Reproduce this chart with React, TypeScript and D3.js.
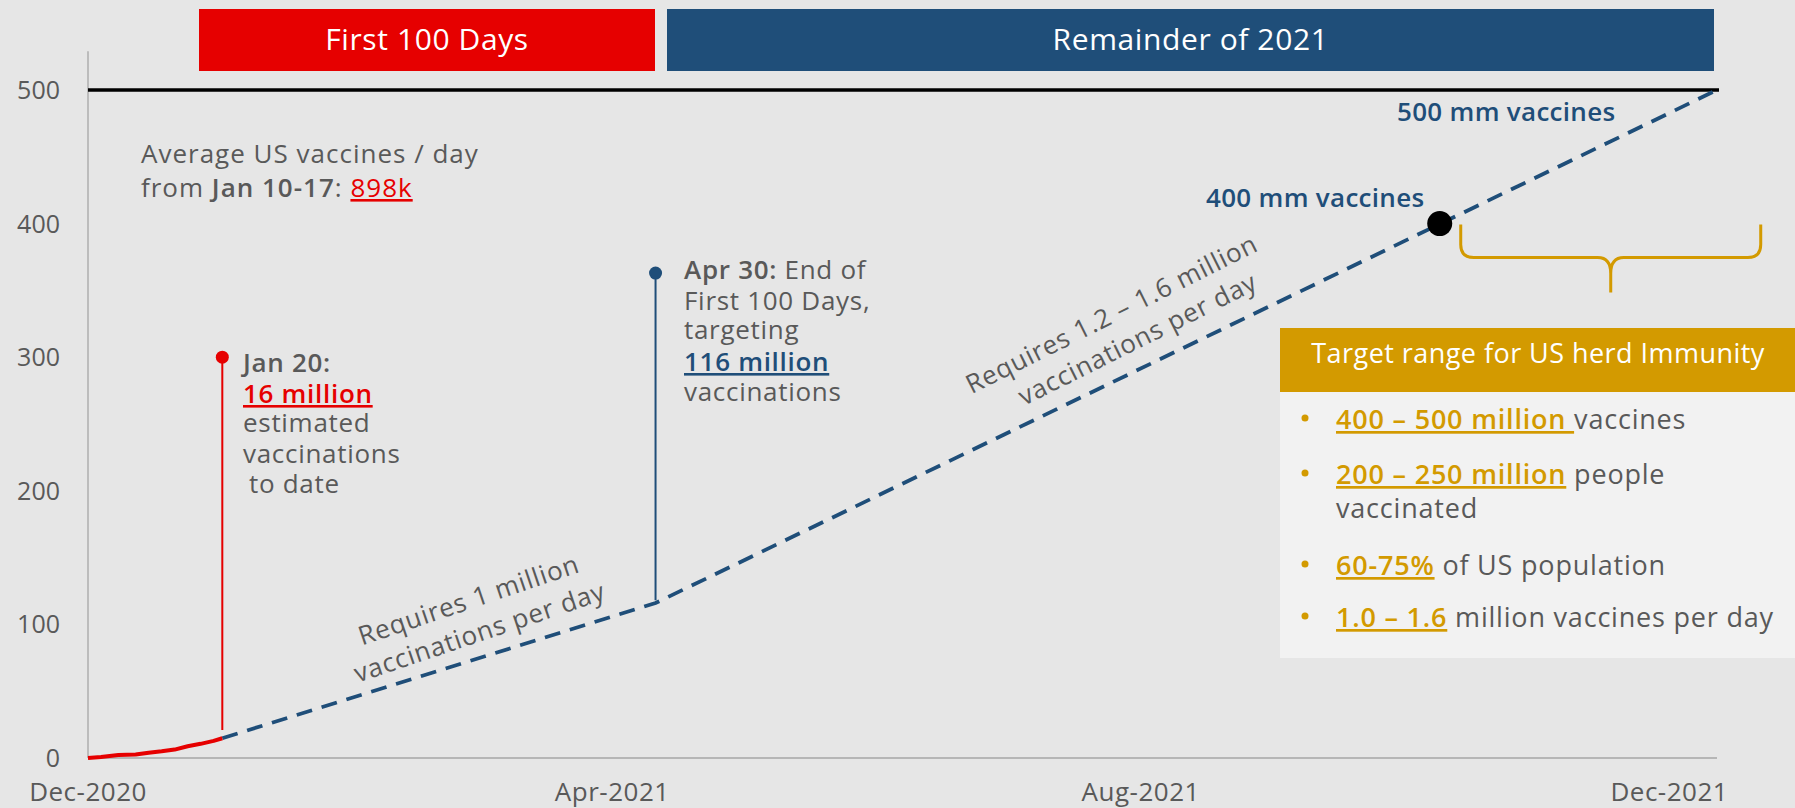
import React from "react";
import * as d3 from "d3";

// ---------- data ----------
const yTicks = [0, 100, 200, 300, 400, 500];
const xTickDates = ["2020-12-20", "2021-04-20", "2021-08-20", "2021-12-20"];
const xTickLabels = ["Dec-2020", "Apr-2021", "Aug-2021", "Dec-2021"];

const actualDates = [
  "2020-12-20", "2020-12-23", "2020-12-27", "2020-12-31", "2021-01-03",
  "2021-01-06", "2021-01-09", "2021-01-12", "2021-01-15", "2021-01-18", "2021-01-20",
];
const actualValues = [0, 0.8, 2.2, 2.6, 4.0, 5.0, 6.3, 8.8, 10.6, 12.8, 14.8];

const projectedDates = ["2021-01-20", "2021-04-30", "2021-12-31"];
const projectedValues = [14.8, 116, 500];

const milestoneDates = ["2021-01-20", "2021-04-30"];
const milestoneTops = [300, 363];
const milestoneBottoms = [21, 118];
const milestoneColors = ["#E60000", "#1F4E79"];

const targetLine = 500;
const dotDate = "2021-10-28";
const dotValue = 400;

const periodLabels = ["First 100 Days", "Remainder of 2021"];

// ---------- styles ----------
const BG = "#E6E6E6";
const GRAY = "#595959";
const RED = "#E60000";
const BLUE = "#1F4E79";
const GOLD = "#D39A00";
const FONT = "'Open Sans', Lato, sans-serif";

const W = 1795;
const H = 808;

const parse = d3.timeParse("%Y-%m-%d");

export default function App() {
  const x = d3
    .scaleTime()
    .domain([parse("2020-12-20")!, parse("2021-12-31")!])
    .range([88, 1717]);
  const y = d3.scaleLinear().domain([0, 500]).range([758, 90]);

  const actual = actualDates.map((d, i) => [parse(d)!, actualValues[i]] as [Date, number]);
  const projected = projectedDates.map((d, i) => [parse(d)!, projectedValues[i]] as [Date, number]);

  const line = d3
    .line<[Date, number]>()
    .x((d) => x(d[0]))
    .y((d) => y(d[1]));

  const p0 = projected[0], p1 = projected[1], p2 = projected[2];
  const ang1 =
    (Math.atan2(y(p1[1]) - y(p0[1]), x(p1[0]) - x(p0[0])) * 180) / Math.PI - 1.3;
  const ang2 =
    (Math.atan2(y(p2[1]) - y(p1[1]), x(p2[0]) - x(p1[0])) * 180) / Math.PI - 0.8;

  const x0 = x.range()[0];
  const x1 = x.range()[1];

  const redBox = { x: 199, w: 456 };
  const blueBox = { x: 667, w: 1047 };

  const dotX = x(parse(dotDate)!);
  const dotY = y(dotValue);

  const bx0 = dotX + 21, bx1 = bx0 + 300, by0 = dotY + 1, by1 = by0 + 33, by2 = by0 + 68;
  const bc = (bx0 + bx1) / 2;
  const r = 13;
  const bracePath = [
    `M${bx0},${by0} L${bx0},${by1 - r} Q${bx0},${by1} ${bx0 + r},${by1}`,
    `L${bc - r},${by1} Q${bc},${by1} ${bc},${by1 + 16} L${bc},${by2}`,
    `M${bc},${by1 + 16} Q${bc},${by1} ${bc + r},${by1}`,
    `L${bx1 - r},${by1} Q${bx1},${by1} ${bx1},${by1 - r} L${bx1},${by0}`,
  ].join(" ");

  const ul = { textDecoration: "underline", textDecorationThickness: "2.5px" } as React.CSSProperties;
  const FS = 26;
  const LS = 0.7;

  return (
    <svg
      width={W}
      height={H}
      style={{ position: "absolute", left: 0, top: 0, background: BG, fontFamily: FONT }}
    >
      <rect x={0} y={0} width={W} height={H} fill={BG} />

      {/* header boxes */}
      <rect x={redBox.x} y={9} width={redBox.w} height={62} fill={RED} />
      <text x={redBox.x + redBox.w / 2} y={50} fill="#fff" fontSize={30} letterSpacing={0.6} textAnchor="middle">
        {periodLabels[0]}
      </text>
      <rect x={blueBox.x} y={9} width={blueBox.w} height={62} fill={BLUE} />
      <text x={blueBox.x + blueBox.w / 2} y={50} fill="#fff" fontSize={30} letterSpacing={0.6} textAnchor="middle">
        {periodLabels[1]}
      </text>

      {/* axes */}
      <line x1={x0} x2={x0} y1={y(529)} y2={y(0)} stroke="#A6A6A6" strokeWidth={1.3} />
      <line x1={x0} x2={x1} y1={y(0)} y2={y(0)} stroke="#A6A6A6" strokeWidth={1.5} />
      {yTicks.map((t) => (
        <text key={t} x={60} y={y(t)} dy="0.36em" fill={GRAY} fontSize={25} textAnchor="end">
          {t}
        </text>
      ))}
      {xTickDates.map((d, i) => (
        <text key={d} x={x(parse(d)!)} y={801} fill={GRAY} fontSize={26} letterSpacing={0.5} textAnchor="middle">
          {xTickLabels[i]}
        </text>
      ))}

      {/* 500 target line */}
      <line x1={x0} x2={x1 + 2} y1={y(targetLine)} y2={y(targetLine)} stroke="#000" strokeWidth={3.5} />

      {/* milestone stems */}
      {milestoneDates.map((d, i) => (
        <g key={d}>
          <line
            x1={x(parse(d)!)}
            x2={x(parse(d)!)}
            y1={y(milestoneBottoms[i])}
            y2={y(milestoneTops[i])}
            stroke={milestoneColors[i]}
            strokeWidth={2}
          />
          <circle cx={x(parse(d)!)} cy={y(milestoneTops[i])} r={6.5} fill={milestoneColors[i]} />
        </g>
      ))}

      {/* projected dashed line */}
      <path
        d={line(projected) || ""}
        fill="none"
        stroke={BLUE}
        strokeWidth={3.8}
        strokeDasharray="16 10"
      />
      {/* actual red line */}
      <path d={line(actual) || ""} fill="none" stroke={RED} strokeWidth={4} strokeLinejoin="round" />

      {/* 400 dot */}
      <circle cx={dotX} cy={dotY} r={12.5} fill="#000" />

      {/* brace */}
      <path d={bracePath} fill="none" stroke={GOLD} strokeWidth={3} />

      {/* text: average */}
      <g fill={GRAY} fontSize={FS} letterSpacing={1.0}>
        <text x={141} y={163}>Average US vaccines / day</text>
        <text x={141} y={197}>
          from <tspan fontWeight={600}>Jan 10-17</tspan>:{" "}
          <tspan fill={RED} style={ul}>898k</tspan>
        </text>
      </g>

      {/* Jan 20 annotation */}
      <g fill={GRAY} fontSize={FS} letterSpacing={LS}>
        <text x={243} y={372} fontWeight={600}>Jan 20:</text>
        <text x={243} y={403} fill={RED} fontWeight={600} style={ul}>16 million</text>
        <text x={243} y={432}>estimated</text>
        <text x={243} y={463}>vaccinations</text>
        <text x={249} y={493}>to date</text>
      </g>

      {/* Apr 30 annotation */}
      <g fill={GRAY} fontSize={FS} letterSpacing={LS}>
        <text x={684} y={279}>
          <tspan fontWeight={600}>Apr 30:</tspan> End of
        </text>
        <text x={684} y={310}>First 100 Days,</text>
        <text x={684} y={339}>targeting</text>
        <text x={684} y={371} fill={BLUE} fontWeight={600} style={ul}>116 million</text>
        <text x={684} y={401}>vaccinations</text>
      </g>

      {/* rotated rate labels */}
      <g transform={`translate(469,601) rotate(${ang1})`} fill={GRAY} fontSize={FS} letterSpacing={0.8}>
        <text x={0} y={8} textAnchor="middle">Requires 1 million</text>
        <text x={0} y={42} textAnchor="middle">vaccinations per day</text>
      </g>
      <g transform={`translate(1112,315) rotate(${ang2})`} fill={GRAY} fontSize={FS} letterSpacing={0.8}>
        <text x={0} y={8} textAnchor="middle">Requires 1.2 – 1.6 million</text>
        <text x={12} y={42} textAnchor="middle">vaccinations per day</text>
      </g>

      {/* mm vaccines labels */}
      <g fill={BLUE} fontSize={FS} fontWeight={600} letterSpacing={0.3}>
        <text x={1397} y={121}>500 mm vaccines</text>
        <text x={1206} y={207}>400 mm vaccines</text>
      </g>

      {/* target panel */}
      <rect x={1280} y={328} width={W - 1280} height={64} fill={GOLD} />
      <text x={1538} y={363} fill="#fff" fontSize={27} letterSpacing={0.45} textAnchor="middle">
        Target range for US herd Immunity
      </text>
      <rect x={1280} y={392} width={W - 1280} height={266} fill="#F2F2F2" />
      {[429, 484, 575, 627].map((by) => (
        <circle key={by} cx={1305} cy={by - 11} r={3.5} fill={GOLD} />
      ))}
      <g fill={GRAY} fontSize={27} letterSpacing={0.8}>
        <text x={1336} y={429}>
          <tspan fill={GOLD} fontWeight={600} style={ul}>400 – 500 million </tspan>vaccines
        </text>
        <text x={1336} y={484}>
          <tspan fill={GOLD} fontWeight={600} style={ul}>200 – 250 million</tspan> people
        </text>
        <text x={1336} y={518}>vaccinated</text>
        <text x={1336} y={575}>
          <tspan fill={GOLD} fontWeight={600} style={ul}>60-75%</tspan> of US population
        </text>
        <text x={1336} y={627}>
          <tspan fill={GOLD} fontWeight={600} style={ul}>1.0 – 1.6</tspan> million vaccines per day
        </text>
      </g>
    </svg>
  );
}
